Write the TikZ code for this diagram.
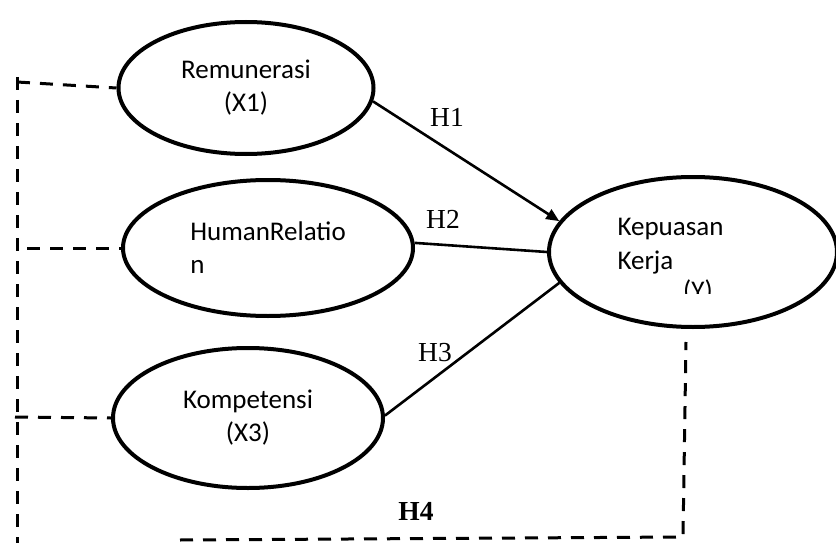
\documentclass[tikz,border=0pt]{standalone}
\usepackage{fontspec}
\setmainfont{Liberation Serif}
\newfontfamily\carlito{Carlito}
\usetikzlibrary{shapes.geometric,arrows.meta}

\begin{document}
\begin{tikzpicture}[x=1pt, y=-1pt,
    latent/.style={ellipse, draw, line width=4pt, inner sep=0pt,
      font=\carlito\fontsize{27}{33}\selectfont},
    hyp/.style={font=\fontsize{27.5}{30}\selectfont},
    path/.style={line width=2.6pt},
    dashline/.style={line width=3pt, dash pattern=on 13pt off 10pt}]
  \useasboundingbox (0,0) rectangle (836,543);

  \node[latent, minimum width=255pt, minimum height=132pt, align=center] (rem) at (246,88) {Remunerasi\\(X1)};
  \node[latent, minimum width=290pt, minimum height=136pt, align=left] (hr) at (268,248) {HumanRelatio\\n};
  \node[latent, minimum width=270pt, minimum height=140pt, align=center] (komp) at (248,418) {Kompetensi\\(X3)};
  \node[latent, minimum width=288pt, minimum height=150pt] (kep) at (693,252) {};

  %% text of the dependent variable, last line cut off
  \node[font=\carlito\fontsize{27}{33}\selectfont, anchor=west] (kep1) at (614,229) {Kepuasan};
  \node[font=\carlito\fontsize{27}{33}\selectfont, anchor=west] (kep2) at (614,263) {Kerja};
  \begin{scope}
    \clip (650,270) rectangle (750,293);
    \node[font=\carlito\fontsize{27}{33}\selectfont, anchor=base] (kep3) at (698,299) {(Y)};
  \end{scope}

  \draw[path, -{Triangle[length=13pt, width=11pt]}] (rem.-6) -- (kep.167);
  \draw[path] (hr.2) -- (kep.180);
  \draw[path] (komp.1) -- (kep.193);
  \node[hyp] (h1) at (447,117) {H1};
  \node[hyp] (h2) at (443,219) {H2};
  \node[hyp] (h3) at (435,353) {H3};
  \node[hyp, font=\bfseries\fontsize{27.5}{30}\selectfont] (h4) at (416,511) {H4};

  %% simultaneous path H4
  \coordinate (lt) at (17,77);
  \coordinate (lb) at (17,543);
  \coordinate (rb) at (683,537);
  \coordinate (rt) at (686,342);
  \coordinate (bl) at (180,540);
  \draw[dashline] (lt) -- (lb);
  \draw[dashline] (17,82) -- (rem.west);
  \draw[dashline] (27,248) -- (hr.west);
  \draw[dashline] (15,417) -- (komp.west);
  \draw[dashline] (bl) -- (rb) -- (rt);
\end{tikzpicture}
\end{document}
